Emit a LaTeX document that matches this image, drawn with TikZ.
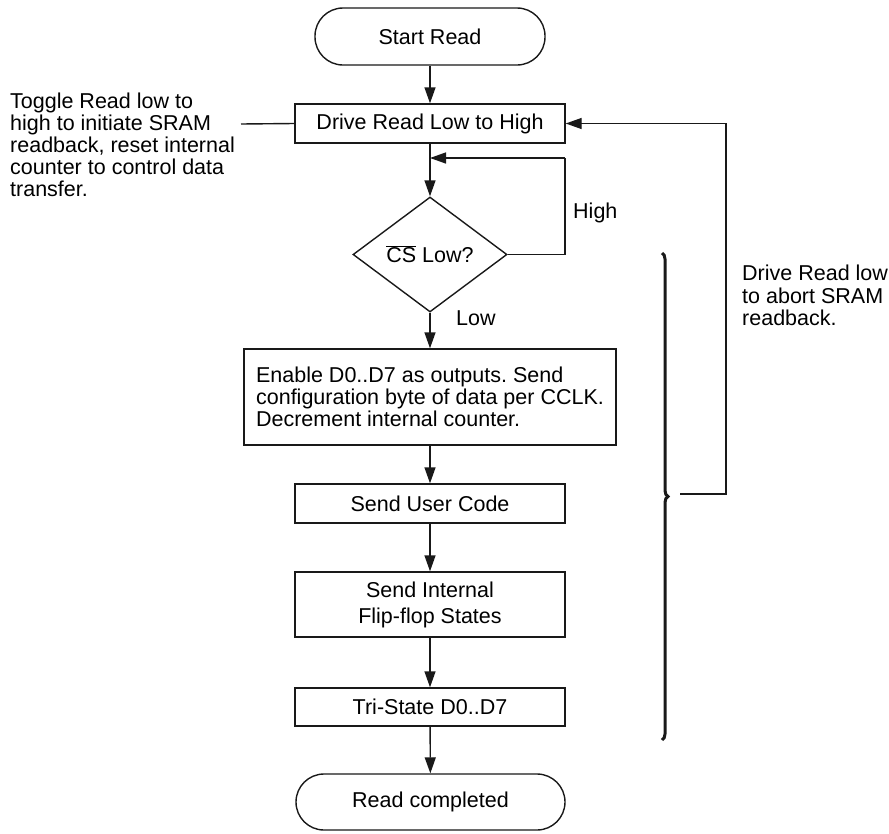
\documentclass[tikz,border=0pt]{standalone}
\usepackage{fontspec}
\setmainfont{Liberation Sans}
\usetikzlibrary{arrows.meta,shapes.geometric,decorations.pathreplacing}
\frenchspacing
\begin{document}
\begin{tikzpicture}[x=1pt,y=-1pt,
  every node/.style={font=\fontsize{21.5}{22}\selectfont, text=black},
  line/.style={line width=1.4pt, draw=black!90},
  arrow/.style={line/.try, -{Triangle[length=16pt,width=11pt]}},
  procbox/.style={draw=black!90, line width=1.4pt, rectangle, inner sep=0pt, align=center},
  term/.style={draw=black!90, line width=1.4pt, rectangle, rounded corners=28pt, inner sep=0pt},
  decision/.style={draw=black!90, line width=1.4pt, diamond, inner sep=0pt, minimum width=154pt, minimum height=115pt},
  note/.style={inner sep=0pt, align=left}
]
\useasboundingbox (0,0) rectangle (889,833);

\node[term, minimum width=230pt, minimum height=57pt] (start) at (430,36.5) {Start Read};
\node[procbox, minimum width=270pt, minimum height=39pt] (drive) at (430,123.5) {Drive Read Low to High};
\node[decision] (cs) at (430,254.5) {$\overline{\mbox{CS}}$ Low?};
\node[procbox, minimum width=372pt, minimum height=96pt, align=left] (enable) at (430,397)
  {Enable D0..D7 as outputs. Send\\configuration byte of data per CCLK.\\Decrement internal counter.};
\node[procbox, minimum width=270pt, minimum height=39pt] (user) at (430,503.5) {Send User Code};
\node[procbox, minimum width=270pt, minimum height=65pt, font=\fontsize{21.5}{26}\selectfont] (flip) at (430,604.5) {Send Internal\\Flip-flop States};
\node[procbox, minimum width=270pt, minimum height=38pt] (tri) at (430,707) {Tri-State D0..D7};
\node[term, minimum width=269pt, minimum height=56pt] (done) at (430.5,802) {Read completed};

\node[note, anchor=north west] (lnote) at (10,93)
  {Toggle Read low to\\high to initiate SRAM\\readback, reset internal\\counter to control data\\transfer.};
\node[note, anchor=north west, font=\fontsize{21.5}{22.5}\selectfont] (rnote) at (742,265)
  {Drive Read low\\to abort SRAM\\readback.};
\node[inner sep=0pt, anchor=base west] (high) at (573,218) {High};
\node[inner sep=0pt, anchor=base west] (low) at (456,325) {Low};

\coordinate (lc) at (241,124);
\coordinate (fb) at (565,158);
\coordinate (fj) at (430,158);
\coordinate (bt) at (680,494);
\coordinate (rt) at (726,494);
\coordinate (btop) at (662,253);
\coordinate (bbot) at (662,740);

\draw[arrow] (start) -- (drive);
\draw[arrow] (drive) -- (cs);
\draw[arrow] (cs) -- (enable);
\draw[arrow] (enable) -- (user);
\draw[arrow] (user) -- (flip);
\draw[arrow] (flip) -- (tri);
\draw[arrow] (tri) -- (done);
\draw[line] (cs.east) -| (fb);
\draw[arrow] (fb) -- (fj);
\draw[line] (lc) -- (drive.west);
\draw[arrow] (bt) -- (rt) |- (drive.east);
\draw[line width=3pt, draw=black!90, decorate, decoration={brace, amplitude=6pt}] (btop) -- (bbot);
\end{tikzpicture}
\end{document}
